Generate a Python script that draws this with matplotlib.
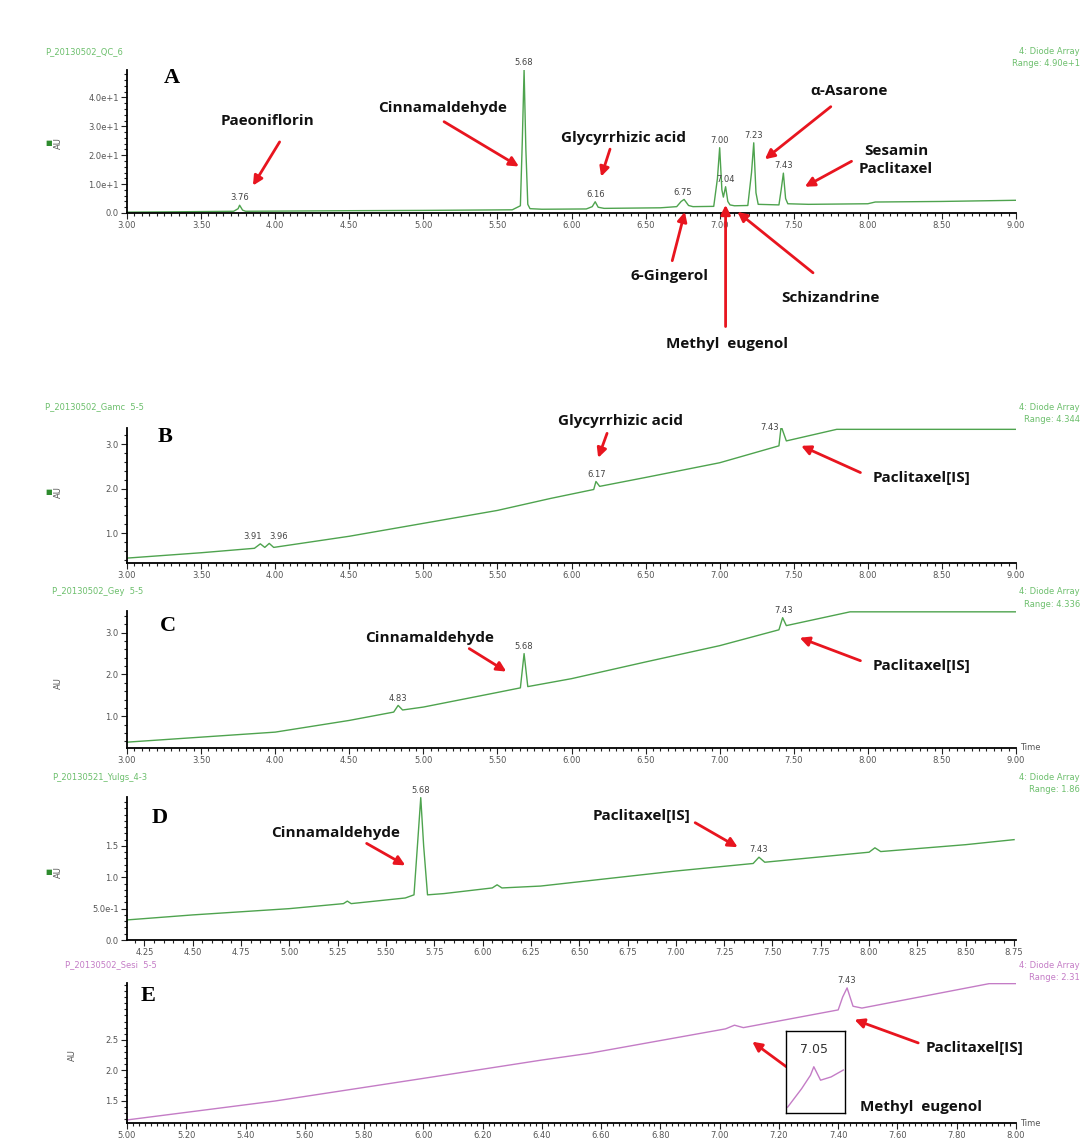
import matplotlib
matplotlib.use("Agg")
import matplotlib.pyplot as plt
from matplotlib.ticker import MultipleLocator, FormatStrFormatter

W, H = 1090, 1145

GREEN = "#4ea34e"
PINK = "#c47cc6"
RED = "#e8151f"
GRAY = "#555555"
HEAD_GREEN = "#6cbf6c"

# ---------------------------------------------------------------------------
# Data
# ---------------------------------------------------------------------------

# A: QC mixture
a_time = [3.00, 3.30, 3.72, 3.75, 3.76, 3.78, 3.80, 4.50, 5.00, 5.60, 5.655,
          5.668, 5.68, 5.692, 5.705, 5.72, 5.80, 6.10, 6.14, 6.16, 6.18, 6.22,
          6.60, 6.71, 6.74, 6.76, 6.79, 6.82, 6.96, 6.985, 7.00, 7.015, 7.025,
          7.04, 7.055, 7.07, 7.10, 7.19, 7.215, 7.23, 7.245, 7.26, 7.40, 7.415,
          7.43, 7.445, 7.46, 7.60, 8.00, 8.05, 8.50, 9.00]
a_au = [0.3, 0.4, 0.6, 1.5, 2.7, 1.0, 0.6, 0.8, 0.9, 1.1, 2.5,
        25.0, 49.5, 22.0, 3.0, 1.5, 1.3, 1.4, 2.2, 3.9, 2.0, 1.6,
        1.8, 2.2, 4.0, 4.7, 2.6, 2.2, 2.3, 12.0, 22.6, 8.0, 5.5,
        9.1, 4.0, 2.8, 2.5, 2.6, 14.0, 24.3, 7.0, 3.0, 2.8, 8.0,
        13.8, 5.0, 3.2, 3.0, 3.2, 3.8, 4.0, 4.4]
a_peak_rt = [3.76, 5.68, 6.16, 6.75, 7.00, 7.04, 7.23, 7.43]
a_peak_au = [2.7, 49.5, 3.9, 4.7, 22.6, 9.1, 24.3, 13.8]

# B
b_time = [3.00, 3.50, 3.86, 3.90, 3.93, 3.96, 3.99, 4.50, 5.00, 5.50, 5.86,
          6.15, 6.165, 6.19, 6.50, 7.00, 7.40, 7.415, 7.45, 7.79, 9.00]
b_au = [0.44, 0.56, 0.66, 0.76, 0.68, 0.77, 0.68, 0.93, 1.22, 1.51, 1.78,
        1.98, 2.16, 2.05, 2.25, 2.58, 2.96, 3.40, 3.07, 3.33, 3.33]
b_peak_rt = [3.91, 3.96, 6.17, 7.43]
b_peak_au = [0.76, 0.77, 2.16, 3.40]

# C
c_time = [3.00, 3.50, 4.00, 4.50, 4.80, 4.83, 4.86, 5.00, 5.50, 5.655, 5.68,
          5.705, 6.00, 6.50, 7.00, 7.40, 7.425, 7.45, 7.88, 9.00]
c_au = [0.38, 0.50, 0.62, 0.90, 1.10, 1.26, 1.15, 1.22, 1.57, 1.68, 2.50,
        1.71, 1.90, 2.30, 2.69, 3.07, 3.36, 3.17, 3.50, 3.50]
c_peak_rt = [4.83, 5.68, 7.43]
c_peak_au = [1.26, 2.50, 3.36]

# D
d_time = [4.16, 4.50, 5.00, 5.28, 5.30, 5.32, 5.60, 5.645, 5.665, 5.68, 5.695,
          5.715, 5.80, 6.05, 6.075, 6.10, 6.30, 7.00, 7.40, 7.43, 7.46, 8.00,
          8.03, 8.06, 8.50, 8.75]
d_au = [0.32, 0.40, 0.50, 0.58, 0.62, 0.58, 0.67, 0.72, 1.60, 2.27, 1.50,
        0.72, 0.74, 0.83, 0.88, 0.83, 0.86, 1.10, 1.22, 1.32, 1.24, 1.40,
        1.47, 1.41, 1.52, 1.60]
d_peak_rt = [5.68, 7.43]
d_peak_au = [2.27, 1.32]

# E
e_time = [5.00, 5.50, 6.00, 6.40, 6.56, 7.02, 7.05, 7.08, 7.40, 7.415, 7.43,
          7.45, 7.48, 7.91, 8.00]
e_au = [1.19, 1.50, 1.87, 2.17, 2.28, 2.68, 2.74, 2.70, 2.99, 3.20, 3.35,
        3.05, 3.02, 3.42, 3.42]
e_peak_rt = [7.43]
e_peak_au = [3.35]
e_inset_time = [6.984, 7.017, 7.038, 7.046, 7.062, 7.087, 7.116]
e_inset_au = [2.618, 2.674, 2.715, 2.741, 2.700, 2.710, 2.731]

# ---------------------------------------------------------------------------
# Helpers
# ---------------------------------------------------------------------------


def px_axes(fig, left, top, right, bottom):
    return fig.add_axes([left / W, 1 - bottom / H, (right - left) / W, (bottom - top) / H])


def style_axes(ax, xlim, ylim, xmajor, xminor, yticks, ylabels, yminor):
    ax.set_xlim(*xlim)
    ax.set_ylim(*ylim)
    for s in ("top", "right"):
        ax.spines[s].set_visible(False)
    for s in ("left", "bottom"):
        ax.spines[s].set_linewidth(1.3)
    ax.xaxis.set_major_locator(MultipleLocator(xmajor))
    ax.xaxis.set_minor_locator(MultipleLocator(xminor))
    ax.xaxis.set_major_formatter(FormatStrFormatter("%.2f"))
    ax.set_yticks(yticks)
    ax.set_yticklabels(ylabels)
    ax.yaxis.set_minor_locator(MultipleLocator(yminor))
    ax.tick_params(which="both", direction="out", color="#222222", width=0.8)
    ax.tick_params(which="major", length=4, labelsize=6, labelcolor=GRAY, pad=2)
    ax.tick_params(which="minor", length=2)


def peak_labels(ax, rts, aus, dx=0, dy=2):
    for rt, au in zip(rts, aus):
        ax.annotate(f"{rt:.2f}", (rt, au), xytext=(dx, dy), textcoords="offset points",
                    ha="center", va="bottom", fontsize=6, color="#444444",
                    annotation_clip=False)


def arrow(ax, tail, tip):
    ax.annotate("", xy=tip, xytext=tail, annotation_clip=False,
                arrowprops=dict(arrowstyle="-|>", color=RED, lw=2.0,
                                mutation_scale=14, shrinkA=0, shrinkB=0))


def label(ax, x, y, text, **kw):
    ax.text(x, y, text, ha="center", va="center", fontsize=11, fontweight="bold",
            family="Open Sans", color="#111111", clip_on=False, **kw)


def header(fig, y, left_text, range_text, color, left_x=45):
    fig.text(left_x / W, 1 - y / H, left_text, fontsize=6, color=color, va="center")
    fig.text(1080 / W, 1 - y / H, "4: Diode Array", fontsize=6, color=color,
             va="center", ha="right")
    fig.text(1080 / W, 1 - (y + 12) / H, range_text, fontsize=6, color=color,
             va="center", ha="right")


def au_label(fig, x, y, square=True):
    fig.text(x / W, 1 - y / H, "AU", fontsize=6, rotation=90, color=GRAY,
             va="center", ha="center")
    if square:
        fig.text((x - 9) / W, 1 - y / H, "\u25a0", fontsize=5, color="#2e8b2e",
                 va="center", ha="center")


def panel_letter(fig, x, y, letter):
    fig.text(x / W, 1 - y / H, letter, fontsize=16, fontweight="bold",
             family="Liberation Serif", va="center", ha="center")


fig = plt.figure(figsize=(W / 100, H / 100), dpi=100)

# --- A ---
ax = px_axes(fig, 127, 70, 1016, 213)
ax.plot(a_time, a_au, color=GREEN, lw=1.0)
style_axes(ax, (3.0, 9.0), (0, 49.5), 0.5, 0.05, [0, 10, 20, 30, 40],
           ["0.0", "1.0e+1", "2.0e+1", "3.0e+1", "4.0e+1"], 2)
peak_labels(ax, a_peak_rt, a_peak_au)
label(ax, 3.95, 31.9, "Paeoniflorin")
arrow(ax, (4.03, 24.6), (3.85, 9.5))
label(ax, 5.13, 36.5, "Cinnamaldehyde")
arrow(ax, (5.14, 31.6), (5.645, 16.1))
label(ax, 6.35, 26.0, "Glycyrrhizic acid")
arrow(ax, (6.26, 22.1), (6.20, 12.6))
label(ax, 7.87, 42.1, "\u03b1-Asarone")
arrow(ax, (7.75, 36.8), (7.305, 18.6))
label(ax, 8.19, 18.3, "Sesamin\nPaclitaxel", linespacing=1.3)
arrow(ax, (7.89, 17.9), (7.575, 9.1))
label(ax, 6.66, -21.8, "6-Gingerol")
arrow(ax, (6.68, -16.5), (6.765, 0.4))
label(ax, 7.05, -45.3, "Methyl  eugenol")
arrow(ax, (7.04, -39.3), (7.04, 2.8))
label(ax, 7.745, -29.5, "Schizandrine")
arrow(ax, (7.63, -20.7), (7.12, 0.4))
header(fig, 52, "P_20130502_QC_6", "Range: 4.90e+1", HEAD_GREEN)
au_label(fig, 58, 143)
panel_letter(fig, 172, 78, "A")

# --- B ---
ax = px_axes(fig, 127, 428, 1016, 563)
ax.plot(b_time, b_au, color=GREEN, lw=1.0)
style_axes(ax, (3.0, 9.0), (0.33, 3.36), 0.5, 0.05, [1, 2, 3],
           ["1.0", "2.0", "3.0"], 0.2)
peak_labels(ax, b_peak_rt[:1], b_peak_au[:1], dx=-7)
peak_labels(ax, b_peak_rt[1:2], b_peak_au[1:2], dx=7)
peak_labels(ax, b_peak_rt[2:3], b_peak_au[2:3])
peak_labels(ax, b_peak_rt[3:], b_peak_au[3:], dx=-10, dy=-4)
label(ax, 6.33, 3.51, "Glycyrrhizic acid")
arrow(ax, (6.24, 3.24), (6.18, 2.69))
label(ax, 8.36, 2.24, "Paclitaxel[IS]")
arrow(ax, (7.95, 2.36), (7.55, 2.96))
header(fig, 407, "P_20130502_Gamc  5-5", "Range: 4.344", HEAD_GREEN)
au_label(fig, 58, 492)
panel_letter(fig, 165, 437, "B")

# --- C ---
ax = px_axes(fig, 127, 611, 1016, 748)
ax.plot(c_time, c_au, color=GREEN, lw=1.0)
style_axes(ax, (3.0, 9.0), (0.24, 3.52), 0.5, 0.05, [1, 2, 3],
           ["1.0", "2.0", "3.0"], 0.2)
peak_labels(ax, c_peak_rt, c_peak_au)
label(ax, 5.04, 2.88, "Cinnamaldehyde")
arrow(ax, (5.31, 2.62), (5.56, 2.07))
label(ax, 8.36, 2.21, "Paclitaxel[IS]")
arrow(ax, (7.95, 2.33), (7.54, 2.88))
ax.text(1.005, 0, "Time", transform=ax.transAxes, fontsize=6, color=GRAY,
        va="center", ha="left")
header(fig, 592, "P_20130502_Gey  5-5", "Range: 4.336", HEAD_GREEN, left_x=52)
au_label(fig, 58, 683, square=False)
panel_letter(fig, 168, 626, "C")

# --- D ---
ax = px_axes(fig, 127, 797, 1016, 940)
ax.plot(d_time, d_au, color=GREEN, lw=1.0)
style_axes(ax, (4.16, 8.76), (0, 2.28), 0.25, 0.05, [0, 0.5, 1.0, 1.5],
           ["0.0", "5.0e-1", "1.0", "1.5"], 0.1)
peak_labels(ax, d_peak_rt, d_peak_au)
label(ax, 5.24, 1.71, "Cinnamaldehyde")
arrow(ax, (5.40, 1.54), (5.60, 1.19))
label(ax, 6.82, 1.98, "Paclitaxel[IS]")
arrow(ax, (7.10, 1.87), (7.32, 1.48))
header(fig, 778, "P_20130521_Yulgs_4-3", "Range: 1.86", HEAD_GREEN, left_x=52)
au_label(fig, 58, 872)
panel_letter(fig, 160, 818, "D")

# --- E ---
ax = px_axes(fig, 127, 983, 1016, 1123)
ax.plot(e_time, e_au, color=PINK, lw=1.0)
style_axes(ax, (5.0, 8.0), (1.14, 3.43), 0.2, 0.02, [1.5, 2.0, 2.5],
           ["1.5", "2.0", "2.5"], 0.1)
peak_labels(ax, e_peak_rt, e_peak_au)
label(ax, 7.86, 2.37, "Paclitaxel[IS]")
arrow(ax, (7.67, 2.45), (7.455, 2.83))
label(ax, 7.68, 1.40, "Methyl  eugenol")
arrow(ax, (7.225, 2.06), (7.11, 2.47))
ax.text(1.005, 0, "Time", transform=ax.transAxes, fontsize=6, color=GRAY,
        va="center", ha="left")
header(fig, 965, "P_20130502_Sesi  5-5", "Range: 2.31", PINK, left_x=65)
au_label(fig, 72, 1055, square=False)
panel_letter(fig, 148, 996, "E")

# inset zoom on the 7.05 peak
axi = px_axes(fig, 786, 1031, 845, 1113)
axi.plot(e_inset_time, e_inset_au, color=PINK, lw=1.0)
axi.set_xlim(6.98, 7.12)
axi.set_ylim(2.60, 2.85)
axi.set_xticks([])
axi.set_yticks([])
for s in axi.spines.values():
    s.set_linewidth(1.0)
axi.text(7.046, 2.775, "7.05", ha="center", va="bottom", fontsize=9, color="#333333")

fig.savefig("out.png", dpi=100)
